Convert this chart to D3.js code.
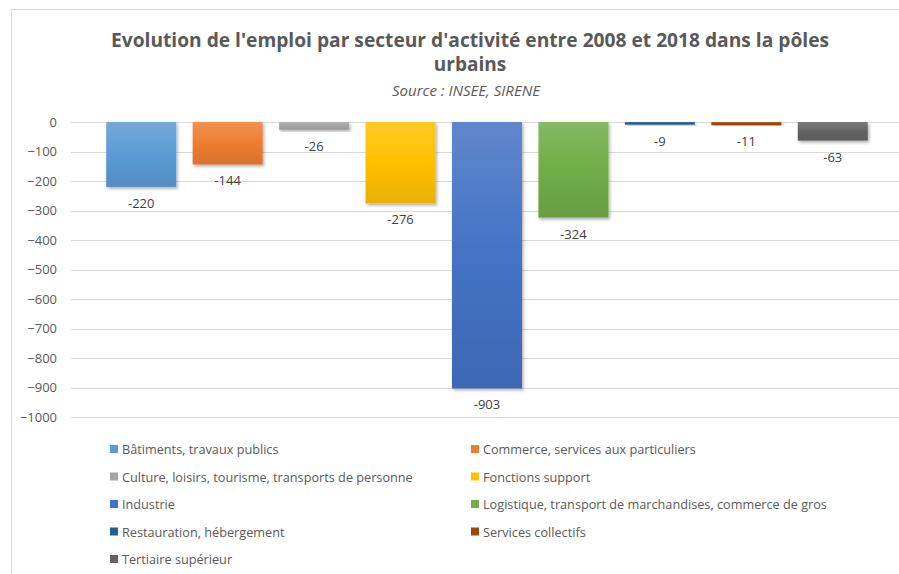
<!DOCTYPE html>
<html>
<head>
<meta charset="utf-8">
<script src="https://cdn.jsdelivr.net/npm/d3@7"></script>
<style>
  body { margin: 0; background: #fff; }
  svg { display: block; font-family: "Open Sans", "Liberation Sans", sans-serif; }
</style>
</head>
<body>
<div id="chart"></div>
<script>
// Data.
var sectors = [
  "Bâtiments, travaux publics",
  "Commerce, services aux particuliers",
  "Culture, loisirs, tourisme, transports de personne",
  "Fonctions support",
  "Industrie",
  "Logistique, transport de marchandises, commerce de gros",
  "Restauration, hébergement",
  "Services collectifs",
  "Tertiaire supérieur"
];
var values = [-220, -144, -26, -276, -903, -324, -9, -11, -63];
var colors = ["#5B9BD5", "#ED7D31", "#A5A5A5", "#FFC000", "#4472C4",
              "#70AD47", "#255E91", "#9E480E", "#636363"];
var yTicks = [0, -100, -200, -300, -400, -500, -600, -700, -800, -900, -1000];

var width = 899, height = 574;

var svg = d3.select("#chart").append("svg")
    .attr("width", width)
    .attr("height", height);

// chart area border
svg.append("rect")
    .attr("x", 11.5).attr("y", 9.5)
    .attr("width", width + 10).attr("height", height + 10)
    .attr("fill", "#fff")
    .attr("stroke", "#d9d9d9");

var defs = svg.append("defs");
var shadow = defs.append("filter").attr("id", "shadow")
    .attr("x", "-10%").attr("y", "-10%").attr("width", "130%").attr("height", "130%");
shadow.append("feDropShadow")
    .attr("dx", 1.5).attr("dy", 2).attr("stdDeviation", 1.5)
    .attr("flood-color", "#000").attr("flood-opacity", 0.3);

// lighter on top, darker at the bottom
colors.forEach(function(c, i) {
  var g = defs.append("linearGradient").attr("id", "grad" + i)
      .attr("x1", 0).attr("y1", 0).attr("x2", 0).attr("y2", 1);
  g.append("stop").attr("offset", "0%").attr("stop-color", d3.interpolateRgb(c, "#fff")(0.15));
  g.append("stop").attr("offset", "50%").attr("stop-color", c);
  g.append("stop").attr("offset", "100%").attr("stop-color", d3.color(c).darker(0.25));
});

// Titles
svg.append("text")
    .attr("x", 470).attr("y", 47)
    .attr("text-anchor", "middle")
    .attr("font-size", 19).attr("font-weight", "bold")
    .attr("fill", "#595959")
    .attr("textLength", 718).attr("lengthAdjust", "spacingAndGlyphs")
    .text("Evolution de l'emploi par secteur d'activité entre 2008 et 2018 dans la pôles");
svg.append("text")
    .attr("x", 470).attr("y", 71)
    .attr("text-anchor", "middle")
    .attr("font-size", 19).attr("font-weight", "bold")
    .attr("fill", "#595959")
    .text("urbains");
svg.append("text")
    .attr("x", 466).attr("y", 96)
    .attr("text-anchor", "middle")
    .attr("font-size", 15).attr("font-style", "italic")
    .attr("fill", "#595959")
    .text("Source : INSEE, SIRENE");

// Scales
var x = d3.scaleBand()
    .domain(sectors)
    .range([98, 876])
    .paddingInner(0.19)
    .paddingOuter(0.095);

var y = d3.scaleLinear()
    .domain([-1000, 0])
    .range([417, 122]);

// gridlines
svg.append("g")
  .selectAll("line")
  .data(yTicks)
  .join("line")
    .attr("x1", 71).attr("x2", width)
    .attr("y1", function(d) { return Math.round(y(d)) + 0.5; })
    .attr("y2", function(d) { return Math.round(y(d)) + 0.5; })
    .attr("stroke", "#d9d9d9");

// y axis labels
var yAxis = svg.append("g")
    .attr("transform", "translate(71,0)")
    .call(d3.axisLeft(y).tickValues(yTicks).tickSize(0).tickPadding(14).tickFormat(d3.format("d")));
yAxis.select(".domain").remove();
yAxis.selectAll("text")
    .attr("font-size", 13)
    .attr("fill", "#595959")
    .attr("font-family", "Open Sans, sans-serif");

// Bars
svg.append("g")
  .selectAll("rect")
  .data(values)
  .join("rect")
    .attr("x", function(d, i) { return x(sectors[i]); })
    .attr("y", y(0))
    .attr("width", x.bandwidth())
    .attr("height", function(d) { return y(d) - y(0); })
    .attr("fill", function(d, i) { return "url(#grad" + i + ")"; })
    .attr("filter", "url(#shadow)");

// value labels
svg.append("g")
  .selectAll("text")
  .data(values)
  .join("text")
    .attr("x", function(d, i) { return x(sectors[i]) + x.bandwidth() / 2; })
    .attr("y", function(d) { return y(d) + 21; })
    .attr("text-anchor", "middle")
    .attr("font-size", 13)
    .attr("fill", "#404040")
    .text(function(d) { return d; });

// Legend, two columns
var legend = svg.append("g")
  .selectAll("g")
  .data(sectors)
  .join("g")
    .attr("transform", function(d, i) {
      var col = i % 2, row = Math.floor(i / 2);
      return "translate(" + (col === 0 ? 110 : 471) + "," + (449 + row * 27.5) + ")";
    });
legend.append("rect")
    .attr("x", 0).attr("y", -4)
    .attr("width", 8).attr("height", 8)
    .attr("fill", function(d, i) { return colors[i]; });
legend.append("text")
    .attr("x", 12).attr("y", 5)
    .attr("font-size", 12.7)
    .attr("fill", "#595959")
    .text(function(d) { return d; });
</script>
</body>
</html>
